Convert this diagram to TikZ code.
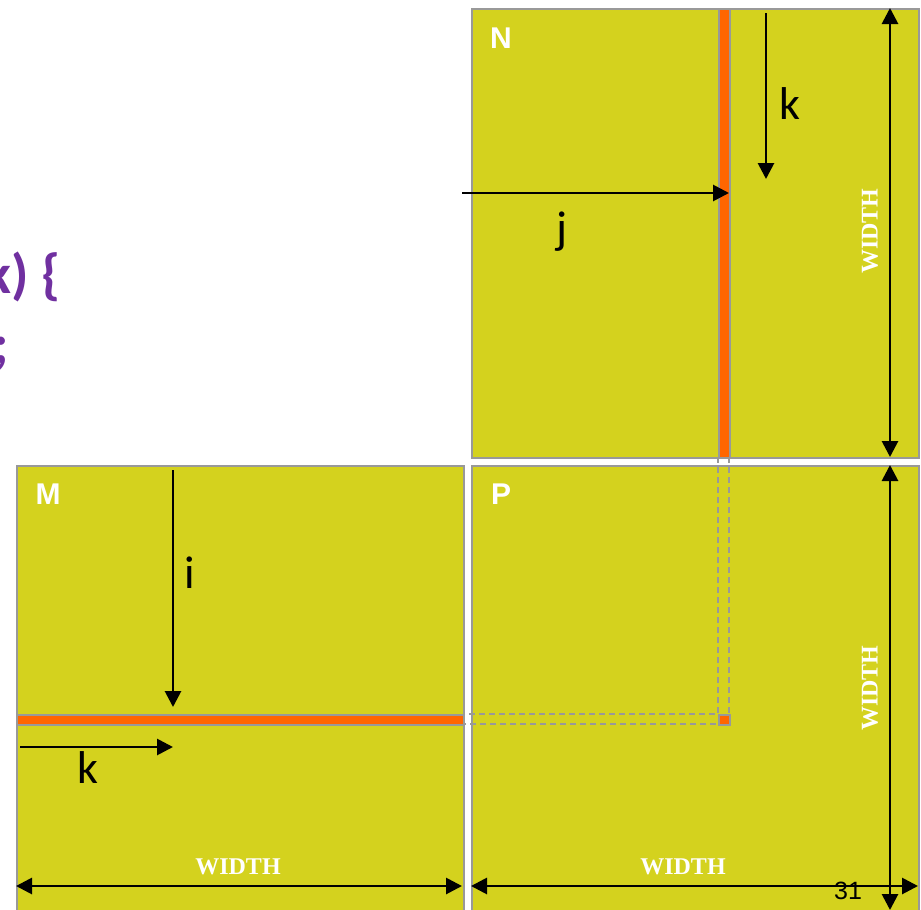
\documentclass[tikz,border=0pt]{standalone}
\usepackage{fontspec}
\setmainfont{Carlito}
\newfontfamily\arialf{Liberation Sans}
\newfontfamily\timesf{Liberation Serif}
\usetikzlibrary{arrows.meta}
\definecolor{mat}{HTML}{D4D21E}
\definecolor{strip}{HTML}{FF6600}
\definecolor{edge}{HTML}{999999}
\definecolor{code}{HTML}{7030A0}
\tikzset{
  x=1pt,y=-1pt,
  matbox/.style={draw=edge,line width=2pt,fill=mat},
  stripbox/.style={draw=edge,line width=1.5pt,fill=strip},
  guide/.style={draw=edge,line width=1.5pt,dash pattern=on 6pt off 4pt},
  arr/.style={line width=2.8pt,-{Triangle[length=16pt,width=16pt]}},
  darr/.style={line width=2.8pt,{Triangle[length=16pt,width=16pt]}-{Triangle[length=16pt,width=16pt]}},
  letter/.style={inner sep=0pt,font=\fontsize{46}{46}\selectfont},
  mname/.style={inner sep=0pt,text=white,font=\arialf\bfseries\fontsize{30}{30}\selectfont},
  wlabel/.style={inner sep=0pt,text=white,font=\timesf\bfseries\fontsize{24}{24}\selectfont},
  codetext/.style={inner sep=0pt,anchor=base east,text=code,font=\bfseries\fontsize{56}{56}\selectfont},
}
\begin{document}
\begin{tikzpicture}
\useasboundingbox (0,0) rectangle (921,910);
\clip (0,0) rectangle (921,910);
% matrices
\node[matbox,minimum width=447pt,minimum height=449pt,anchor=north west,inner sep=0pt] (N) at (471,8) {};
\node[matbox,minimum width=447pt,minimum height=449pt,anchor=north west,inner sep=0pt] (P) at (471,465) {};
\node[matbox,minimum width=447pt,minimum height=449pt,anchor=north west,inner sep=0pt] (M) at (16,465) {};
% strips
\node[stripbox,minimum width=11pt,minimum height=449pt,anchor=north west,inner sep=0pt] (Ns) at (718,8) {};
\node[stripbox,minimum width=447pt,minimum height=10pt,anchor=north west,inner sep=0pt] (Ms) at (16,714) {};
% guides
\coordinate (ga) at (718,457); \coordinate (gb) at (718,714);
\coordinate (gc) at (729,457); \coordinate (gd) at (729,724);
\coordinate (ge) at (463,714); \coordinate (gf) at (463,724);
\draw[guide] (ga) -- (gb) -- (ge);
\draw[guide] (gc) -- (gd) -- (gf);
\node[stripbox,minimum width=11pt,minimum height=10pt,anchor=north west,inner sep=0pt] (Ps) at (718,714) {};
% arrows in N
\coordinate (j1) at (462,193); \coordinate (j2) at (729,193);
\draw[arr] (j1) -- (j2);
\node[letter] (jl) at (562,232) {j};
\coordinate (k1) at (766,13); \coordinate (k2) at (766,179);
\draw[arr] (k1) -- (k2);
\node[letter] (kl) at (790,104) {k};
\coordinate (w1) at (890,8); \coordinate (w2) at (890,457);
\draw[darr] (w1) -- (w2);
\node[wlabel,rotate=90] (wN) at (870,231) {WIDTH};
% arrows in M
\coordinate (i1) at (173,470); \coordinate (i2) at (173,707);
\draw[arr] (i1) -- (i2);
\node[letter] (il) at (190,573) {i};
\coordinate (m1) at (20,747); \coordinate (m2) at (173,747);
\draw[arr] (m1) -- (m2);
\node[letter] (ml) at (88,768) {k};
\coordinate (w3) at (16,886); \coordinate (w4) at (462,886);
\draw[darr] (w3) -- (w4);
\node[wlabel] (wM) at (238,867) {WIDTH};
% arrows in P
\coordinate (w5) at (471,886); \coordinate (w6) at (918,886);
\draw[darr] (w5) -- (w6);
\node[wlabel] (wP) at (683,867) {WIDTH};
\coordinate (w7) at (890,465); \coordinate (w8) at (890,910);
\draw[darr] (w7) -- (w8);
\node[wlabel,rotate=90] (wP2) at (870,688) {WIDTH};
% names
\node[mname] (Nn) at (501,38) {N};
\node[mname] (Mn) at (48,494) {M};
\node[mname] (Pn) at (501,494) {P};
% page number
\node[inner sep=0pt,font=\arialf\fontsize{25}{25}\selectfont] (pg) at (848,891) {31};
% cut-off code text
\node[codetext] (c1) at (61,293) {k) \{};
\node[codetext] (c2) at (9,363) {;};
\end{tikzpicture}
\end{document}
